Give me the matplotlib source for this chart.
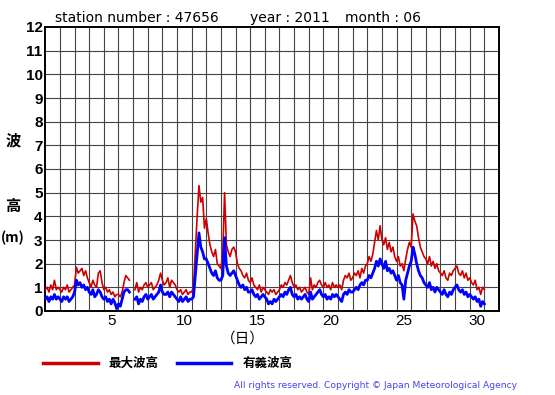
import numpy as np
import matplotlib
matplotlib.use("Agg")
import matplotlib.pyplot as plt

# ---------------------------------------------------------------- data
# wave height (m), one value every 3 hours from June 1 00:00 (8 per day)
STEP_PER_DAY = 8
nan = np.nan

hmax = [
    0.9, 1.0, 0.8, 1.1, 0.9, 1.3, 0.9, 1.0,   # 1
    0.9, 0.8, 1.0, 0.9, 1.1, 0.8, 0.9, 1.0,   # 2
    1.1, 1.85, 1.6, 1.7, 1.8, 1.5, 1.7, 1.4,  # 3
    1.2, 1.0, 1.3, 1.1, 1.0, 1.6, 1.7, 1.2,   # 4
    0.9, 1.0, 0.8, 0.9, 0.7, 0.8, 0.6, 0.7,   # 5
    0.7, 0.6, 0.8, 1.2, 1.5, 1.4, 1.3, nan,   # 6
    nan, 0.9, 1.2, 0.8, 1.0, 0.9, 1.1, 1.2,   # 7
    1.0, 1.1, 1.2, 0.9, 1.0, 1.1, 1.3, 1.6,   # 8
    1.3, 1.1, 1.2, 1.4, 1.0, 1.3, 1.2, 1.1,   # 9
    0.9, 0.8, 0.9, 0.7, 0.8, 0.9, 0.7, 0.8,   # 10
    0.8, 1.0, 2.5, 4.0, 5.3, 4.6, 4.8, 3.5,   # 11
    3.9, 3.3, 2.8, 2.5, 2.3, 2.6, 2.0, 1.9,   # 12
    1.8, 2.4, 5.0, 2.8, 2.5, 2.3, 2.6, 2.7,   # 13
    2.5, 2.0, 1.8, 1.7, 1.5, 1.4, 1.6, 1.3,   # 14
    1.2, 1.4, 1.1, 1.0, 0.9, 1.1, 0.8, 1.0,   # 15
    0.9, 0.8, 0.7, 0.9, 0.8, 0.9, 0.7, 0.8,   # 16
    0.9, 1.1, 1.0, 1.2, 1.1, 1.3, 1.5, 1.2,   # 17
    1.0, 1.1, 0.9, 1.0, 0.8, 0.9, 1.0, 0.8,   # 18
    0.7, 1.4, 0.9, 1.1, 1.0, 1.2, 1.3, 1.1,   # 19
    1.0, 1.2, 1.0, 1.1, 0.9, 1.2, 1.0, 1.1,   # 20
    1.0, 1.1, 0.9, 1.3, 1.5, 1.4, 1.6, 1.3,   # 21
    1.4, 1.6, 1.5, 1.7, 1.4, 1.8, 1.6, 1.9,   # 22
    2.0, 2.3, 2.1, 2.4, 2.9, 3.4, 3.0, 3.6,   # 23
    3.0, 2.8, 3.1, 2.6, 2.9, 2.5, 2.7, 2.3,   # 24
    2.1, 2.3, 1.9, 2.0, 1.7, 2.2, 2.6, 2.9,   # 25
    2.7, 4.1, 3.8, 3.6, 3.1, 2.7, 2.5, 2.3,   # 26
    2.2, 2.0, 2.3, 1.9, 2.1, 1.8, 2.0, 1.7,   # 27
    1.6, 1.5, 1.7, 1.4, 1.3, 1.6, 1.5, 1.7,   # 28
    1.8, 1.9, 1.6, 1.5, 1.7, 1.4, 1.6, 1.3,   # 29
    1.4, 1.2, 1.1, 1.3, 0.9, 1.0, 0.7, 1.0,   # 30
    0.9,
]

hsig = [
    0.5, 0.6, 0.4, 0.6, 0.5, 0.7, 0.5, 0.6,
    0.5, 0.4, 0.6, 0.5, 0.6, 0.4, 0.5, 0.6,
    0.8, 1.3, 1.1, 1.2, 1.0, 1.1, 0.9, 1.0,
    0.8, 0.7, 0.9, 0.6, 0.7, 0.9, 0.8, 0.6,
    0.5, 0.6, 0.4, 0.5, 0.3, 0.5, 0.35, 0.1,
    0.3, 0.2, 0.5, 0.8, 0.9, 0.9, 0.8, nan,
    nan, 0.5, 0.6, 0.3, 0.5, 0.4, 0.6, 0.7,
    0.5, 0.6, 0.7, 0.5, 0.6, 0.7, 0.8, 1.1,
    0.8, 0.7, 0.7, 0.8, 0.6, 0.8, 0.7, 0.6,
    0.5, 0.4, 0.6, 0.4, 0.5, 0.6, 0.4, 0.5,
    0.5, 0.6, 1.5, 2.4, 3.3, 2.7, 2.5, 2.2,
    2.2, 2.0, 1.8, 1.6, 1.5, 1.7, 1.4, 1.3,
    1.3, 1.5, 3.1, 1.9, 1.6, 1.5, 1.6, 1.7,
    1.5, 1.3, 1.1, 1.0, 1.1, 0.9, 1.0, 0.8,
    0.8, 0.9, 0.7, 0.6, 0.7, 0.5, 0.6, 0.7,
    0.6, 0.5, 0.3, 0.4, 0.3, 0.5, 0.4, 0.5,
    0.6, 0.7, 0.6, 0.8, 0.7, 0.9, 1.0, 0.7,
    0.6, 0.7, 0.5, 0.6, 0.5, 0.6, 0.7, 0.5,
    0.4, 0.8, 0.5, 0.6, 0.7, 0.8, 0.9, 0.7,
    0.6, 0.7, 0.5, 0.6, 0.5, 0.7, 0.6, 0.7,
    0.6, 0.5, 0.4, 0.7, 0.8, 0.7, 0.9, 0.8,
    0.8, 0.9, 1.0, 0.9, 1.1, 1.2, 1.1, 1.3,
    1.3, 1.5, 1.4, 1.6, 1.8, 2.1, 1.9, 2.2,
    2.0, 1.8, 2.1, 1.7, 1.8, 1.6, 1.7, 1.5,
    1.3, 1.5, 1.2, 1.1, 0.5, 1.3, 1.6, 1.9,
    2.1, 2.7, 2.4, 2.0, 1.7, 1.5, 1.4, 1.2,
    1.1, 1.0, 1.2, 0.9, 1.0, 0.8, 1.0, 0.9,
    0.8, 0.7, 0.9, 0.7, 0.6, 0.8, 0.7, 0.9,
    1.0, 1.1, 0.9, 0.8, 0.9, 0.7, 0.8, 0.6,
    0.7, 0.6, 0.5, 0.6, 0.4, 0.5, 0.2, 0.4,
    0.3,
]

day_ticks = [5, 10, 15, 20, 25, 30]
y_ticks = list(range(0, 13))

t = np.arange(len(hmax)) / STEP_PER_DAY

JP = ["Noto Sans CJK JP", "DejaVu Sans"]
LAT = ["Liberation Sans", "DejaVu Sans"]
RED = "#cc0000"
BLUE = "#0000ff"

# ---------------------------------------------------------------- figure
W, H = 555, 395
fig = plt.figure(figsize=(W / 100, H / 100), dpi=100)
ax = fig.add_axes([45.3 / W, 1 - 311 / H, (499 - 45.3) / W, (311 - 27) / H])

ax.plot(t, hmax, color=RED, lw=1.2, zorder=3)
ax.plot(t, hsig, color=BLUE, lw=2.0, zorder=4)

ax.set_xlim(0, 31)
ax.set_ylim(0, 12)
ax.set_xticks([d - 0.5 for d in day_ticks])
ax.set_xticklabels([str(d) for d in day_ticks], family=LAT, fontsize=11)
ax.set_yticks(y_ticks)
ax.set_yticklabels([str(v) for v in y_ticks], family=LAT, fontsize=11, fontweight="bold")
ax.tick_params(which="both", length=0, pad=2)
ax.grid(False)
for d in range(1, 31):
    ax.axvline(d, color="#444444", lw=0.8, zorder=1)
for v in range(1, 12):
    ax.axhline(v, color="#444444", lw=0.8, zorder=1)
for s in ax.spines.values():
    s.set_linewidth(1.4)

def ftext(x, y, s, **kw):
    fig.text(x / W, 1 - y / H, s, **kw)

ftext(55, 22, "station number : 47656", family=["DejaVu Sans"], fontsize=10, va="baseline")
ftext(250, 22, "year : 2011", family=["DejaVu Sans"], fontsize=10, va="baseline")
ftext(345, 22, "month : 06", family=["DejaVu Sans"], fontsize=10, va="baseline")

ftext(13, 140, "波", family=JP, fontsize=11, fontweight="bold", ha="center", va="center")
ftext(13, 206, "高", family=JP, fontsize=11, fontweight="bold", ha="center", va="center")
ftext(13, 238, "(m)", family=JP, fontsize=10, fontweight="bold", ha="center", va="center")
ftext(243, 339, "（日）", family=JP, fontsize=10.5, ha="center", va="center")

fig.add_artist(plt.Line2D([43 / W, 98 / W], [1 - 363 / H] * 2, color=RED, lw=2.5))
ftext(108, 363, "最大波高", family=JP, fontsize=9, fontweight="bold", va="center")
fig.add_artist(plt.Line2D([177 / W, 231 / W], [1 - 363 / H] * 2, color=BLUE, lw=2.5))
ftext(243, 363, "有義波高", family=JP, fontsize=9, fontweight="bold", va="center")

ftext(517, 385, "All rights reserved. Copyright \u00a9 Japan Meteorological Agency",
      family=["DejaVu Sans"], fontsize=6.6, color="#4444ee", ha="right", va="center")

fig.savefig("out.png", dpi=100)
